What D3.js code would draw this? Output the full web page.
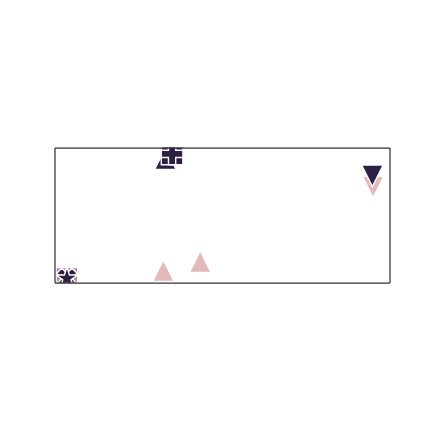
<!DOCTYPE html>
<html>
<head>
<meta charset="utf-8">
<script src="https://cdn.jsdelivr.net/npm/d3@7"></script>
<style>
  html, body { margin: 0; padding: 0; background: #ffffff; }
  svg { display: block; }
</style>
</head>
<body>
<div id="chart"></div>
<script>
// ---- data (drawing order = z-order) ----
const pointX     = [9.51, 3.25, 4.35, 0.37, 0.37, 0.37, 3.31, 3.51, 3.51, 9.49];
const pointY     = [2.83, 0.35, 0.62, 0.12, 0.12, 0.12, 3.67, 3.81, 3.81, 3.16];
const pointShape = ["down", "up", "up", "square", "x", "star", "up", "square", "plus", "down"];
const pointGroup = ["light", "light", "light", "mid", "dark", "dark", "dark", "dark", "dark", "dark"];
const xDomain = [0, 10];
const yDomain = [0, 4];

// ---- layout / styles ----
const W = 432, H = 432;
const margin = { left: 54.5, right: 42.5, top: 147.5, bottom: 149.5 };
const groupColor = { light: "#e3b9b9", mid: "#b888ab", dark: "#2e1f45" };
const markerR = 10.8;

const x = d3.scaleLinear().domain(xDomain).range([margin.left, W - margin.right]);
const y = d3.scaleLinear().domain(yDomain).range([H - margin.bottom, margin.top]);

// custom matplotlib-like marker shapes (size interpreted as r*r)
const shapes = {
  up: { draw(ctx, s) { const r = Math.sqrt(s);
    ctx.moveTo(0, -r); ctx.lineTo(r, r); ctx.lineTo(-r, r); ctx.closePath(); } },
  down: { draw(ctx, s) { const r = Math.sqrt(s);
    ctx.moveTo(0, r); ctx.lineTo(r, -r); ctx.lineTo(-r, -r); ctx.closePath(); } },
  square: { draw(ctx, s) { const r = Math.sqrt(s);
    ctx.moveTo(-r, -r); ctx.lineTo(r, -r); ctx.lineTo(r, r); ctx.lineTo(-r, r); ctx.closePath(); } },
  plus: { draw(ctx, s) { const r = Math.sqrt(s), a = r / 3;
    const pts = [[a, r], [a, a], [r, a], [r, -a], [a, -a], [a, -r], [-a, -r], [-a, -a], [-r, -a], [-r, a], [-a, a], [-a, r]];
    pts.forEach((p, i) => i ? ctx.lineTo(p[0], p[1]) : ctx.moveTo(p[0], p[1])); ctx.closePath(); } },
  x: { draw(ctx, s) { const r = Math.sqrt(s), a = r / 3;
    const base = [[a, r], [a, a], [r, a], [r, -a], [a, -a], [a, -r], [-a, -r], [-a, -a], [-r, -a], [-r, a], [-a, a], [-a, r]];
    const c = Math.SQRT1_2;
    base.map(p => [(p[0] - p[1]) * c, (p[0] + p[1]) * c])
        .forEach((p, i) => i ? ctx.lineTo(p[0], p[1]) : ctx.moveTo(p[0], p[1])); ctx.closePath(); } },
  star: { draw(ctx, s) { const r = Math.sqrt(s) * 1.05, ri = r * 0.381966;
    for (let i = 0; i < 10; i++) {
      const rr = i % 2 ? ri : r, ang = -Math.PI / 2 + i * Math.PI / 5;
      const px = rr * Math.cos(ang), py = rr * Math.sin(ang);
      i ? ctx.lineTo(px, py) : ctx.moveTo(px, py);
    }
    ctx.closePath(); } }
};

const svg = d3.select("#chart").append("svg").attr("width", W).attr("height", H);

svg.append("defs").append("clipPath").attr("id", "plotclip")
  .append("rect")
  .attr("x", x.range()[0]).attr("y", y.range()[1])
  .attr("width", x.range()[1] - x.range()[0])
  .attr("height", y.range()[0] - y.range()[1]);

const data = pointX.map((v, i) => ({ x: v, y: pointY[i], shape: pointShape[i], group: pointGroup[i] }));

svg.append("g").attr("clip-path", "url(#plotclip)")
  .selectAll("path").data(data).join("path")
  .attr("transform", d => `translate(${x(d.x)},${y(d.y)})`)
  .attr("d", d => d3.symbol().type(shapes[d.shape]).size(markerR * markerR)())
  .attr("fill", d => groupColor[d.group])
  .attr("stroke", "#ffffff")
  .attr("stroke-width", 1.4)
  .attr("stroke-linejoin", "miter");

// frame drawn with axes without ticks
const frame = svg.append("g").attr("class", "frame");
frame.append("g").attr("transform", `translate(0,${y.range()[0]})`).call(d3.axisBottom(x).tickValues([]).tickSizeOuter(0));
frame.append("g").attr("transform", `translate(0,${y.range()[1]})`).call(d3.axisTop(x).tickValues([]).tickSizeOuter(0));
frame.append("g").attr("transform", `translate(${x.range()[0]},0)`).call(d3.axisLeft(y).tickValues([]).tickSizeOuter(0));
frame.append("g").attr("transform", `translate(${x.range()[1]},0)`).call(d3.axisRight(y).tickValues([]).tickSizeOuter(0));
frame.selectAll(".domain").attr("stroke", "#333333").attr("stroke-width", 1.25);
</script>
</body>
</html>
